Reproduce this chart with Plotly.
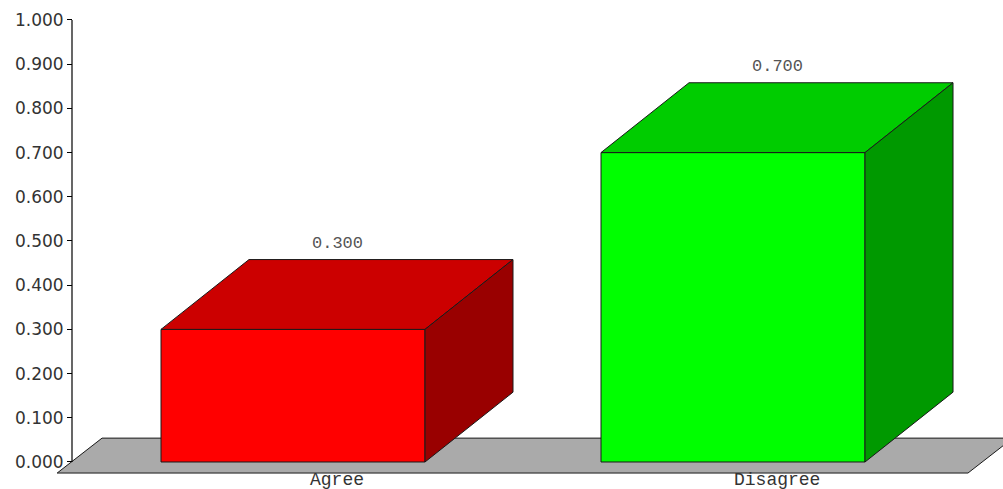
import plotly.graph_objects as go

# ---- data ----
categories = ["Agree", "Disagree"]
values = [0.300, 0.700]
tick_values = [0.0, 0.1, 0.2, 0.3, 0.4, 0.5, 0.6, 0.7, 0.8, 0.9, 1.0]
tick_labels = ["%.3f" % t for t in tick_values]

# ---- styles ----
front_colors = ["#FF0000", "#00FF00"]
top_colors = ["#CC0000", "#00CC00"]
side_colors = ["#990000", "#009900"]
edge_color = "#1a1a1a"
floor_color = "#AAAAAA"

W, H = 1003, 489
BAR_W = 0.6          # category units
DX, DY = 0.2, 0.158  # 3D depth offset (x units, y units)
FDX, FDY = 0.102, 0.079  # floor depth
FLOOR_DROP = 0.025
FLOOR_X0, FLOOR_X1 = -0.536, 1.534
X_RANGE = [-0.6659, 1.6136]
Y_RANGE = [-0.0611, 1.0452]
AXIS_POS = 72 / W

fig = go.Figure()


def poly(xs, ys, color):
    fig.add_trace(go.Scatter(
        x=xs + [xs[0]], y=ys + [ys[0]], mode="lines", fill="toself",
        fillcolor=color, line=dict(color=edge_color, width=1),
        hoverinfo="skip", showlegend=False))


# floor
fy0 = -FLOOR_DROP
poly([FLOOR_X0, FLOOR_X1, FLOOR_X1 + FDX, FLOOR_X0 + FDX],
     [fy0, fy0, fy0 + FDY, fy0 + FDY], floor_color)

# bars
for i, (cat, v) in enumerate(zip(categories, values)):
    x0, x1 = i - BAR_W / 2, i + BAR_W / 2
    poly([x0, x1, x1, x0], [0, 0, v, v], front_colors[i])
    poly([x0, x1, x1 + DX, x0 + DX], [v, v, v + DY, v + DY], top_colors[i])
    poly([x1, x1 + DX, x1 + DX, x1], [0, DY, v + DY, v], side_colors[i])
    fig.add_annotation(x=i + DX / 2, y=v + DY, xref="x", yref="y",
                       text="%.3f" % v, showarrow=False, yanchor="middle",
                       yshift=16,
                       font=dict(family="Liberation Mono", size=17, color="#555555"))
    fig.add_annotation(x=i + DX / 2, y=-0.0407, xref="x", yref="y",
                       text=cat, showarrow=False, yanchor="middle",
                       font=dict(family="Liberation Mono", size=18, color="#333333"))

# y axis line (0 .. 1)
fig.add_shape(type="line", xref="paper", yref="y", x0=AXIS_POS, x1=AXIS_POS,
              y0=tick_values[0], y1=tick_values[-1],
              line=dict(color="#000000", width=1.2), layer="above")

fig.update_layout(
    width=W, height=H,
    margin=dict(l=0, r=0, t=0, b=0),
    paper_bgcolor="white", plot_bgcolor="white",
    xaxis=dict(range=X_RANGE, visible=False, fixedrange=True),
    yaxis=dict(range=Y_RANGE, tickvals=tick_values, ticktext=tick_labels,
               ticks="outside", ticklen=5, tickcolor="#000000",
               showgrid=False, zeroline=False, showline=False,
               anchor="free", position=AXIS_POS, side="left",
               tickfont=dict(family="DejaVu Sans", size=17, color="#333333"),
               fixedrange=True),
)

fig.write_html("out.html")
